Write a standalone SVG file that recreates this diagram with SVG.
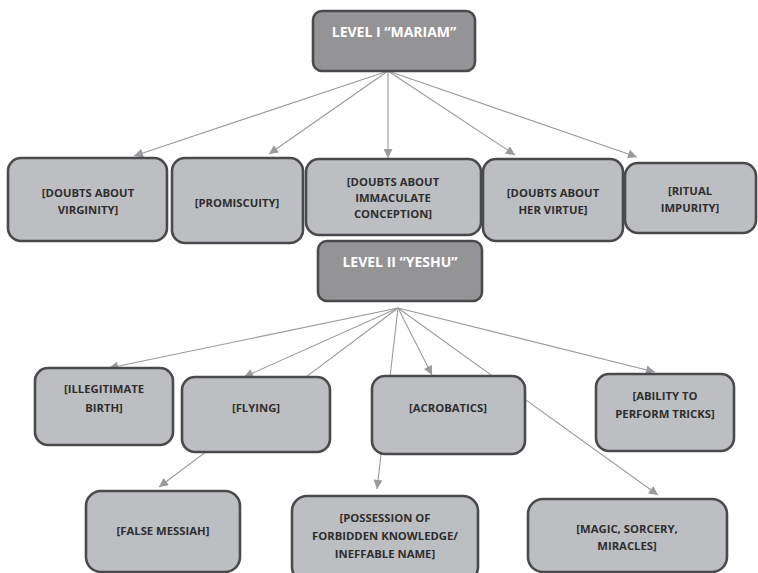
<svg xmlns="http://www.w3.org/2000/svg" width="758" height="573" viewBox="0 0 758 573">
<defs>
<marker id="ah" viewBox="0 0 10 10" refX="10" refY="5" markerWidth="11" markerHeight="9" orient="auto" markerUnits="userSpaceOnUse">
<path d="M0,0 L10,5 L0,10 z" fill="#9a9a9c"/>
</marker>
<style>
.n rect{fill:#bdbec2;stroke:#4a4a4c;stroke-width:2.6}
.lv rect{fill:#949497;stroke:#4a4a4c;stroke-width:2.6}
text{font-family:"Open Sans","Liberation Sans",sans-serif;font-weight:700;text-anchor:middle}
.n text{font-size:11.3px;fill:#2e2e2e}
.lv text{font-size:14px;fill:#ffffff}
.c line{stroke:#9a9a9c;stroke-width:1.1;fill:none}
.c .a{marker-end:url(#ah)}
</style>
</defs>
<rect width="758" height="573" fill="#ffffff"/>
<g class="c" id="connectors">
<line class="a" x1="388" y1="71" x2="134" y2="156"/>
<line class="a" x1="388" y1="71" x2="269" y2="154"/>
<line class="a" x1="388" y1="71" x2="388" y2="158"/>
<line class="a" x1="388" y1="71" x2="515" y2="155"/>
<line class="a" x1="388" y1="71" x2="637" y2="157"/>
<line class="a" x1="398" y1="308" x2="109" y2="368"/>
<line class="a" x1="398" y1="308" x2="244" y2="377"/>
<line class="a" x1="398" y1="308" x2="159" y2="487"/>
<line class="a" x1="398" y1="308" x2="377" y2="489"/>
<line class="a" x1="398" y1="308" x2="432" y2="375"/>
<line class="a" x1="398" y1="308" x2="658" y2="495"/>
<line class="a" x1="398" y1="308" x2="655" y2="372"/>
</g>
<g class="lv" id="level1"><rect x="313" y="11" width="162" height="60" rx="9"/><text x="394" y="37">LEVEL I “MARIAM”</text></g>
<g class="n" id="virginity"><rect x="8" y="158" width="159" height="83" rx="13"/><text x="88" y="197">[DOUBTS ABOUT</text><text x="88" y="214">VIRGINITY]</text></g>
<g class="n" id="promiscuity"><rect x="172" y="158" width="131" height="85" rx="13"/><text x="237" y="207">[PROMISCUITY]</text></g>
<g class="n" id="immaculate"><rect x="306" y="159" width="175" height="76" rx="13"/><text x="393" y="186">[DOUBTS ABOUT</text><text x="393" y="202">IMMACULATE</text><text x="393" y="218">CONCEPTION]</text></g>
<g class="n" id="virtue"><rect x="483" y="159" width="140" height="82" rx="13"/><text x="553" y="197">[DOUBTS ABOUT</text><text x="553" y="214">HER VIRTUE]</text></g>
<g class="n" id="ritual"><rect x="625" y="163" width="131" height="70" rx="13"/><text x="690" y="195">[RITUAL</text><text x="690" y="212">IMPURITY]</text></g>
<g class="lv" id="level2"><rect x="318" y="241" width="164" height="60" rx="9"/><text x="400" y="267">LEVEL II “YESHU”</text></g>
<g class="n" id="illegitimate"><rect x="35" y="368" width="138" height="77" rx="13"/><text x="104" y="393">[ILLEGITIMATE</text><text x="104" y="412">BIRTH]</text></g>
<g class="n" id="flying"><rect x="182" y="377" width="148" height="75" rx="13"/><text x="256" y="412">[FLYING]</text></g>
<g class="n" id="acrobatics"><rect x="372" y="376" width="153" height="78" rx="13"/><text x="448" y="412">[ACROBATICS]</text></g>
<g class="n" id="tricks"><rect x="596" y="374" width="138" height="77" rx="13"/><text x="665" y="400">[ABILITY TO</text><text x="665" y="418">PERFORM TRICKS]</text></g>
<g class="n" id="messiah"><rect x="86" y="491" width="154" height="81" rx="15"/><text x="163" y="535">[FALSE MESSIAH]</text></g>
<g class="n" id="possession"><rect x="292" y="496" width="186" height="86" rx="15"/><text x="385" y="522">[POSSESSION OF</text><text x="385" y="540">FORBIDDEN KNOWLEDGE/</text><text x="385" y="558">INEFFABLE NAME]</text></g>
<g class="n" id="magic"><rect x="528" y="499" width="199" height="73" rx="15"/><text x="627" y="533">[MAGIC, SORCERY,</text><text x="627" y="550">MIRACLES]</text></g>
</svg>
